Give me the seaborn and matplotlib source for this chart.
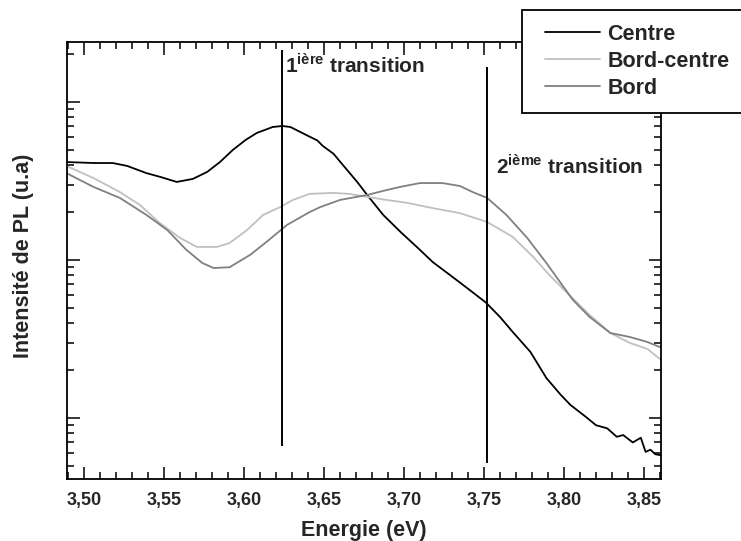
import numpy as np
import pandas as pd
import matplotlib
matplotlib.use("Agg")
import matplotlib.pyplot as plt
import seaborn as sns
from matplotlib.lines import Line2D
from matplotlib.legend_handler import HandlerLine2D
from matplotlib.ticker import MultipleLocator, FuncFormatter, NullFormatter

# spectra (energy in eV, PL intensity arb. units, log scale)
centre_E = [3.489, 3.506, 3.518, 3.527, 3.539, 3.548, 3.558, 3.568, 3.577, 3.585,
            3.593, 3.601, 3.608, 3.618, 3.624, 3.629, 3.639, 3.646, 3.649, 3.656,
            3.660, 3.671, 3.677, 3.687, 3.698, 3.708, 3.718, 3.729, 3.739, 3.751,
            3.760, 3.768, 3.779, 3.789, 3.798, 3.804, 3.814, 3.820, 3.827, 3.833,
            3.837, 3.843, 3.848, 3.851, 3.854, 3.857, 3.861]
centre_I = [417, 411, 411, 394, 355, 335, 312, 326, 361, 417,
            497, 575, 637, 695, 705, 695, 618, 570, 530, 470,
            420, 310, 258, 193, 150, 121, 97, 80, 67, 54,
            43.6, 35, 26.2, 17.9, 14.0, 12.1, 10.1, 9.0, 8.6, 7.6,
            7.8, 7.0, 7.5, 6.1, 6.3, 5.9, 5.8]

bordc_E = [3.489, 3.506, 3.5225, 3.535, 3.5475, 3.560, 3.5706, 3.583, 3.591, 3.602,
           3.612, 3.6225, 3.6306, 3.641, 3.6556, 3.666, 3.677, 3.689, 3.702, 3.718,
           3.735, 3.752, 3.768, 3.781, 3.791, 3.8056, 3.816, 3.829, 3.841, 3.852, 3.860]
bordc_I = [394, 330, 269, 223, 171, 138, 121, 121, 128, 155,
           193, 216, 240, 262, 266, 262, 251, 240, 230, 213,
           198, 174, 140, 104, 80, 57, 44.9, 34.5, 29.9, 27.4, 23.6]

bord_E = [3.489, 3.506, 3.5225, 3.539, 3.552, 3.564, 3.574, 3.581, 3.591, 3.604,
          3.614, 3.627, 3.641, 3.6475, 3.660, 3.677, 3.689, 3.6975, 3.710, 3.724,
          3.735, 3.743, 3.752, 3.764, 3.777, 3.789, 3.8056, 3.816, 3.829, 3.841,
          3.852, 3.860]
bord_I = [355, 290, 247, 193, 155, 116, 95.7, 89, 90, 108,
          130, 167, 201, 216, 240, 258, 277, 290, 307, 307,
          294, 269, 247, 193, 138, 95.7, 55.8, 43.6, 34.5, 32.6,
          30.3, 28.1]

series_names = ["Centre", "Bord-centre", "Bord"]
series_colors = ["#000000", "#c0c0c0", "#808080"]

# transitions (vertical markers)
trans_E = [3.624, 3.752]
trans_top = [2130, 1670]
trans_bottom = [6.65, 5.2]
trans_num = ["1", "2"]
trans_sup = ["ière", "ième"]
trans_text_E = [3.6256, 3.7575]
trans_text_I = [1528, 355]

df = pd.concat([
    pd.DataFrame({"E": centre_E, "I": centre_I, "serie": "Centre"}),
    pd.DataFrame({"E": bordc_E, "I": bordc_I, "serie": "Bord-centre"}),
    pd.DataFrame({"E": bord_E, "I": bord_I, "serie": "Bord"}),
], ignore_index=True)

sns.set_style("ticks")
plt.rcParams['font.family'] = ['Liberation Sans', 'DejaVu Sans']
plt.rcParams['font.weight'] = 'bold'
plt.rcParams['mathtext.fontset'] = 'custom'
plt.rcParams['mathtext.rm'] = 'Liberation Sans:bold'
plt.rcParams['mathtext.bf'] = 'Liberation Sans:bold'

fig = plt.figure(figsize=(7.41, 5.41), dpi=100)
ax = fig.add_axes([0.0904, 0.1146, 0.8016, 0.8078])

sns.lineplot(data=df, x="E", y="I", hue="serie", hue_order=series_names,
             palette=series_colors, sort=False, estimator=None, lw=1.3, ax=ax)

ax.vlines(trans_E, trans_bottom, trans_top, color="black", lw=1.4)
for e, i, n, s in zip(trans_text_E, trans_text_I, trans_num, trans_sup):
    ax.text(e, i, n + r"$^{\mathrm{" + s + "}}$ transition", fontsize=15,
            fontweight='bold', ha='left', va='baseline')

ax.set_yscale('log')
ax.set_xlim(3.4894, 3.8606)
ax.set_ylim(4.11, 2399)
ax.xaxis.set_major_locator(MultipleLocator(0.05))
ax.xaxis.set_minor_locator(MultipleLocator(0.01))
ax.xaxis.set_major_formatter(FuncFormatter(lambda v, p: f"{v:.2f}".replace('.', ',')))
ax.yaxis.set_major_formatter(NullFormatter())
ax.yaxis.set_minor_formatter(NullFormatter())

ax.tick_params(which='both', direction='in', top=True, right=True, width=1.3)
ax.tick_params(which='major', length=9, pad=9, labelsize=13)
ax.tick_params(which='minor', length=5)
for sp in ax.spines.values():
    sp.set_linewidth(1.3)
    sp.set_color('black')

ax.set_xlabel("Energie (eV)", fontsize=15.5, fontweight='bold', va='center')
ax.xaxis.set_label_coords(0.5, -0.117)
ax.set_ylabel("Intensité de PL (u.a)", fontsize=15.5, fontweight='bold', va='center')
ax.yaxis.set_label_coords(-0.074, 0.51)

# legend box sticks out past the right edge of the figure, as in the original
leg = ax.legend(loc='upper left',
                bbox_to_anchor=(522 / 741, 1 - 112 / 541, 232 / 741, 102 / 541),
                bbox_transform=fig.transFigure, mode='expand',
                frameon=True, fancybox=False, edgecolor='black', framealpha=1,
                fontsize=15.5, handlelength=2.98, handletextpad=0.33,
                labelspacing=0.27, borderpad=0.65, borderaxespad=0,
                handler_map={Line2D: HandlerLine2D(xpad=0.42)})
leg.get_frame().set_linewidth(1.3)
for t in leg.get_texts():
    t.set_fontweight('bold')

fig.savefig("out.png", dpi=100)
